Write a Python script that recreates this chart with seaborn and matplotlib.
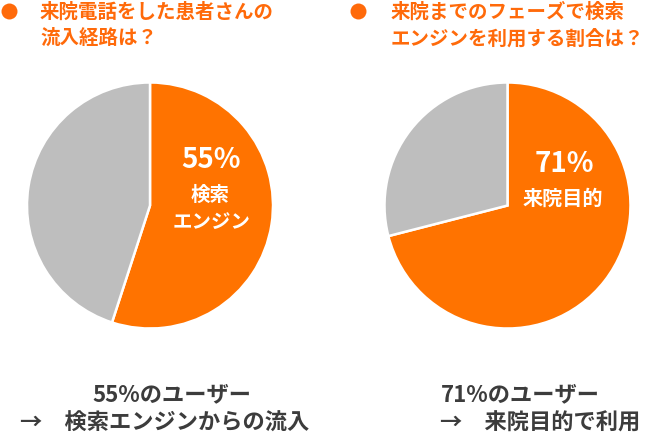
import matplotlib
matplotlib.use("Agg")
import matplotlib.pyplot as plt
from matplotlib.lines import Line2D
import seaborn as sns

sns.set_theme(style="white")
plt.rcParams['font.family'] = ['Noto Sans CJK JP', 'DejaVu Sans']

# Data
left_labels = ["検索エンジン", "その他"]
left_values = [55, 45]
right_labels = ["来院目的", "その他"]
right_values = [71, 29]
titles = ["来院電話をした患者さんの\n流入経路は？", "来院までのフェーズで検索\nエンジンを利用する割合は？"]
inner_pct = ["55%", "71%"]
inner_text = ["検索\nエンジン", "来院目的"]
bottom_line1 = ["55%のユーザー", "71%のユーザー"]
bottom_line2 = ["→　検索エンジンからの流入", "→　来院目的で利用"]

ORANGE = "#FF7300"
GRAY = "#BEBEBE"
TITLE_C = "#FF6A0A"
TEXT_C = "#3C3C3C"

W, H = 653, 435
fig = plt.figure(figsize=(W / 100, H / 100), dpi=100)
fig.patch.set_facecolor("white")

def fx(x): return x / W
def fy(y): return 1 - y / H

R = 123
centers = [(150, 206.5), (507.5, 206.5)]
for i, (vals, (cx, cy)) in enumerate(zip([left_values, right_values], centers)):
    ax = fig.add_axes([fx(cx - R), fy(cy + R), 2 * R / W, 2 * R / H])
    ax.pie(vals, colors=[ORANGE, GRAY], startangle=90, counterclock=False,
           wedgeprops=dict(edgecolor="white", linewidth=1.8), radius=1)
    ax.set_xlim(-1.0, 1.0); ax.set_ylim(-1.0, 1.0)
    ax.set_aspect("equal")
    ax.axis("off")

# Titles with bullet dots
for tx, bx, t in [(40, 9, titles[0]), (391, 358, titles[1])]:
    fig.add_artist(Line2D([fx(bx)], [fy(12)], marker="o", markersize=11.5,
                          color=TITLE_C, markeredgewidth=0, transform=fig.transFigure))
    fig.text(fx(tx), fy(12), t.split("\n")[0], color=TITLE_C, fontsize=14,
             fontweight="bold", ha="left", va="center")
    fig.text(fx(tx), fy(38.5), t.split("\n")[1], color=TITLE_C, fontsize=14,
             fontweight="bold", ha="left", va="center")

# Inner labels
fig.text(fx(211), fy(160), inner_pct[0], color="white", fontsize=20, fontweight="bold",
         ha="center", va="center")
fig.text(fx(210), fy(195), inner_text[0].split("\n")[0], color="white", fontsize=14,
         fontweight="bold", ha="center", va="center")
fig.text(fx(212), fy(222), inner_text[0].split("\n")[1], color="white", fontsize=14,
         fontweight="bold", ha="center", va="center")
fig.text(fx(564), fy(164), inner_pct[1], color="white", fontsize=20, fontweight="bold",
         ha="center", va="center")
fig.text(fx(563), fy(198), inner_text[1], color="white", fontsize=14.5, fontweight="bold",
         ha="center", va="center")

# Bottom text
fig.text(fx(172), fy(395), bottom_line1[0], color=TEXT_C, fontsize=16, fontweight="bold",
         ha="center", va="center")
fig.text(fx(20), fy(423), bottom_line2[0], color=TEXT_C, fontsize=16, fontweight="bold",
         ha="left", va="center")
fig.text(fx(520), fy(395), bottom_line1[1], color=TEXT_C, fontsize=16, fontweight="bold",
         ha="center", va="center")
fig.text(fx(440), fy(423), bottom_line2[1], color=TEXT_C, fontsize=16, fontweight="bold",
         ha="left", va="center")

fig.savefig("out.png", dpi=100, facecolor="white")
